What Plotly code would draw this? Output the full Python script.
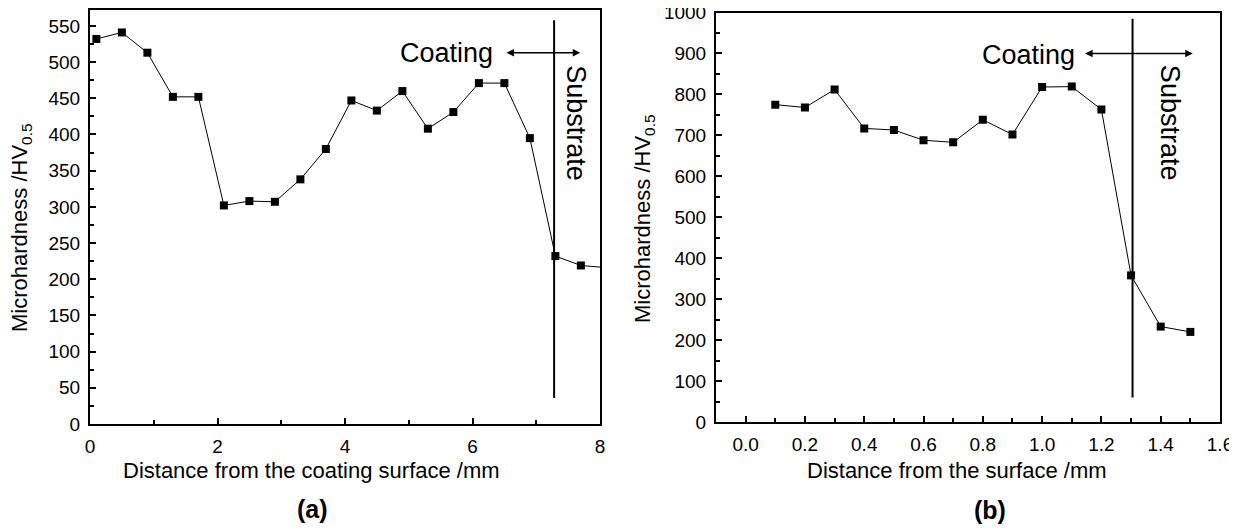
import plotly.graph_objects as go

# Panel (a)
dist_a = [0.1, 0.5, 0.9, 1.3, 1.7, 2.1, 2.5, 2.9, 3.3, 3.7, 4.1, 4.5, 4.9, 5.3, 5.7, 6.1, 6.5, 6.9, 7.3, 7.7, 8.1]
hv_a = [532, 541, 513, 452, 452, 302, 308, 307, 338, 380, 447, 433, 460, 408, 431, 471, 471, 395, 232, 219, 216]
# Panel (b)
dist_b = [0.1, 0.2, 0.3, 0.4, 0.5, 0.6, 0.7, 0.8, 0.9, 1.0, 1.1, 1.2, 1.3, 1.4, 1.5]
hv_b = [775, 768, 812, 717, 713, 688, 683, 738, 702, 818, 819, 763, 358, 233, 220]

xticks_a = [0, 2, 4, 6, 8]
yticks_a = list(range(0, 551, 50))
xticks_b = [0.0, 0.2, 0.4, 0.6, 0.8, 1.0, 1.2, 1.4, 1.6]
xticklabels_b = ["0.0", "0.2", "0.4", "0.6", "0.8", "1.0", "1.2", "1.4", "1.6"]
yticks_b = list(range(0, 1001, 100))

FONT = "Liberation Sans, Arial, sans-serif"
OFF = 8  # page body margin offset
W, H = 1237 - OFF, 529 - OFF

fig = go.Figure()
fig.add_trace(go.Scatter(x=dist_a, y=hv_a, mode="lines+markers", xaxis="x", yaxis="y",
                         line=dict(color="black", width=1),
                         marker=dict(symbol="square", size=8, color="black"),
                         showlegend=False, cliponaxis=True))
fig.add_trace(go.Scatter(x=dist_b, y=hv_b, mode="lines+markers", xaxis="x2", yaxis="y2",
                         line=dict(color="black", width=1),
                         marker=dict(symbol="square", size=8, color="black"),
                         showlegend=False, cliponaxis=True))

axis_common = dict(showline=True, linecolor="black", linewidth=2, mirror=True,
                   ticks="inside", ticklen=6, tickwidth=1.5, tickcolor="black",
                   showgrid=False, zeroline=False, automargin=False,
                   ticklabelstandoff=4, ticklabeloverflow="allow",
                   tickfont=dict(family=FONT, size=19, color="black"))

def px_x(p):
    return (p - OFF) / W

def px_y(p):
    return 1 - (p - OFF) / H

minor_style = dict(ticks="inside", ticklen=4, tickwidth=1.5, tickcolor="black", showgrid=False)

fig.update_layout(
    width=W, height=H,
    margin=dict(l=0, r=0, t=0, b=0, autoexpand=False),
    paper_bgcolor="white", plot_bgcolor="white",
    showlegend=False,
    xaxis=dict(domain=[px_x(90), px_x(600)], range=[0, 8], tickmode="array", tickvals=xticks_a,
               minor=dict(dtick=1, **minor_style), anchor="y", **axis_common),
    yaxis=dict(domain=[px_y(424), px_y(10)], range=[0, 572], tickmode="array", tickvals=yticks_a,
               minor=dict(dtick=25, **minor_style), anchor="x", **axis_common),
    xaxis2=dict(domain=[px_x(716), px_x(1220)], range=[-0.1, 1.6], tickmode="array",
                tickvals=xticks_b, ticktext=xticklabels_b,
                minor=dict(dtick=0.1, tick0=0, **minor_style), anchor="y2", **axis_common),
    yaxis2=dict(domain=[px_y(422), px_y(12.5)], range=[0, 1000], tickmode="array", tickvals=yticks_b,
                minor=dict(dtick=50, **minor_style), anchor="x2", **axis_common),
)

# Interface lines
fig.add_shape(type="line", xref="x", yref="y", x0=7.28, x1=7.28, y0=36, y1=558,
              line=dict(color="black", width=2))
fig.add_shape(type="line", xref="x2", yref="y2", x0=1.305, x1=1.305, y0=60, y1=985,
              line=dict(color="black", width=2))

# Double arrows
fig.add_annotation(xref="x", yref="y", axref="x", ayref="y", x=7.69, y=513, ax=6.51, ay=513,
                   text="", showarrow=True, arrowhead=2, arrowside="end+start", arrowsize=1,
                   arrowwidth=1.5, arrowcolor="black")
fig.add_annotation(xref="x2", yref="y2", axref="x2", ayref="y2", x=1.508, y=900, ax=1.14, ay=900,
                   text="", showarrow=True, arrowhead=2, arrowside="end+start", arrowsize=1,
                   arrowwidth=1.5, arrowcolor="black")

# Coating / Substrate labels
fig.add_annotation(xref="x", yref="y", x=6.35, y=513, text="Coating", showarrow=False,
                   xanchor="right", yanchor="middle", font=dict(family=FONT, size=27, color="black"))
fig.add_annotation(xref="x", yref="y", x=7.62, y=416, text="Substrate", showarrow=False,
                   textangle=90, xanchor="center", yanchor="middle",
                   font=dict(family=FONT, size=27, color="black"))
fig.add_annotation(xref="x2", yref="y2", x=1.118, y=897, text="Coating", showarrow=False,
                   xanchor="right", yanchor="middle", font=dict(family=FONT, size=27, color="black"))
fig.add_annotation(xref="x2", yref="y2", x=1.434, y=731, text="Substrate", showarrow=False,
                   textangle=90, xanchor="center", yanchor="middle",
                   font=dict(family=FONT, size=27, color="black"))

# Axis titles
ytitle = "Microhardness /HV<sub>0.5</sub>"
fig.add_annotation(xref="paper", yref="paper", x=px_x(21), y=px_y(228), text=ytitle, showarrow=False,
                   textangle=-90, xanchor="center", yanchor="middle",
                   font=dict(family=FONT, size=22, color="black"))
fig.add_annotation(xref="paper", yref="paper", x=px_x(644), y=px_y(219), text=ytitle, showarrow=False,
                   textangle=-90, xanchor="center", yanchor="middle",
                   font=dict(family=FONT, size=22, color="black"))
fig.add_annotation(xref="paper", yref="paper", x=px_x(311), y=px_y(470), text="Distance from the coating surface /mm",
                   showarrow=False, xanchor="center", yanchor="middle",
                   font=dict(family=FONT, size=22, color="black"))
fig.add_annotation(xref="paper", yref="paper", x=px_x(957), y=px_y(470), text="Distance from the surface /mm",
                   showarrow=False, xanchor="center", yanchor="middle",
                   font=dict(family=FONT, size=22, color="black"))
fig.add_annotation(xref="paper", yref="paper", x=px_x(312), y=px_y(509), text="<b>(a)</b>",
                   showarrow=False, xanchor="center", yanchor="middle",
                   font=dict(family=FONT, size=25, color="black"))
fig.add_annotation(xref="paper", yref="paper", x=px_x(990), y=px_y(510), text="<b>(b)</b>",
                   showarrow=False, xanchor="center", yanchor="middle",
                   font=dict(family=FONT, size=25, color="black"))

fig.write_html("out.html")
